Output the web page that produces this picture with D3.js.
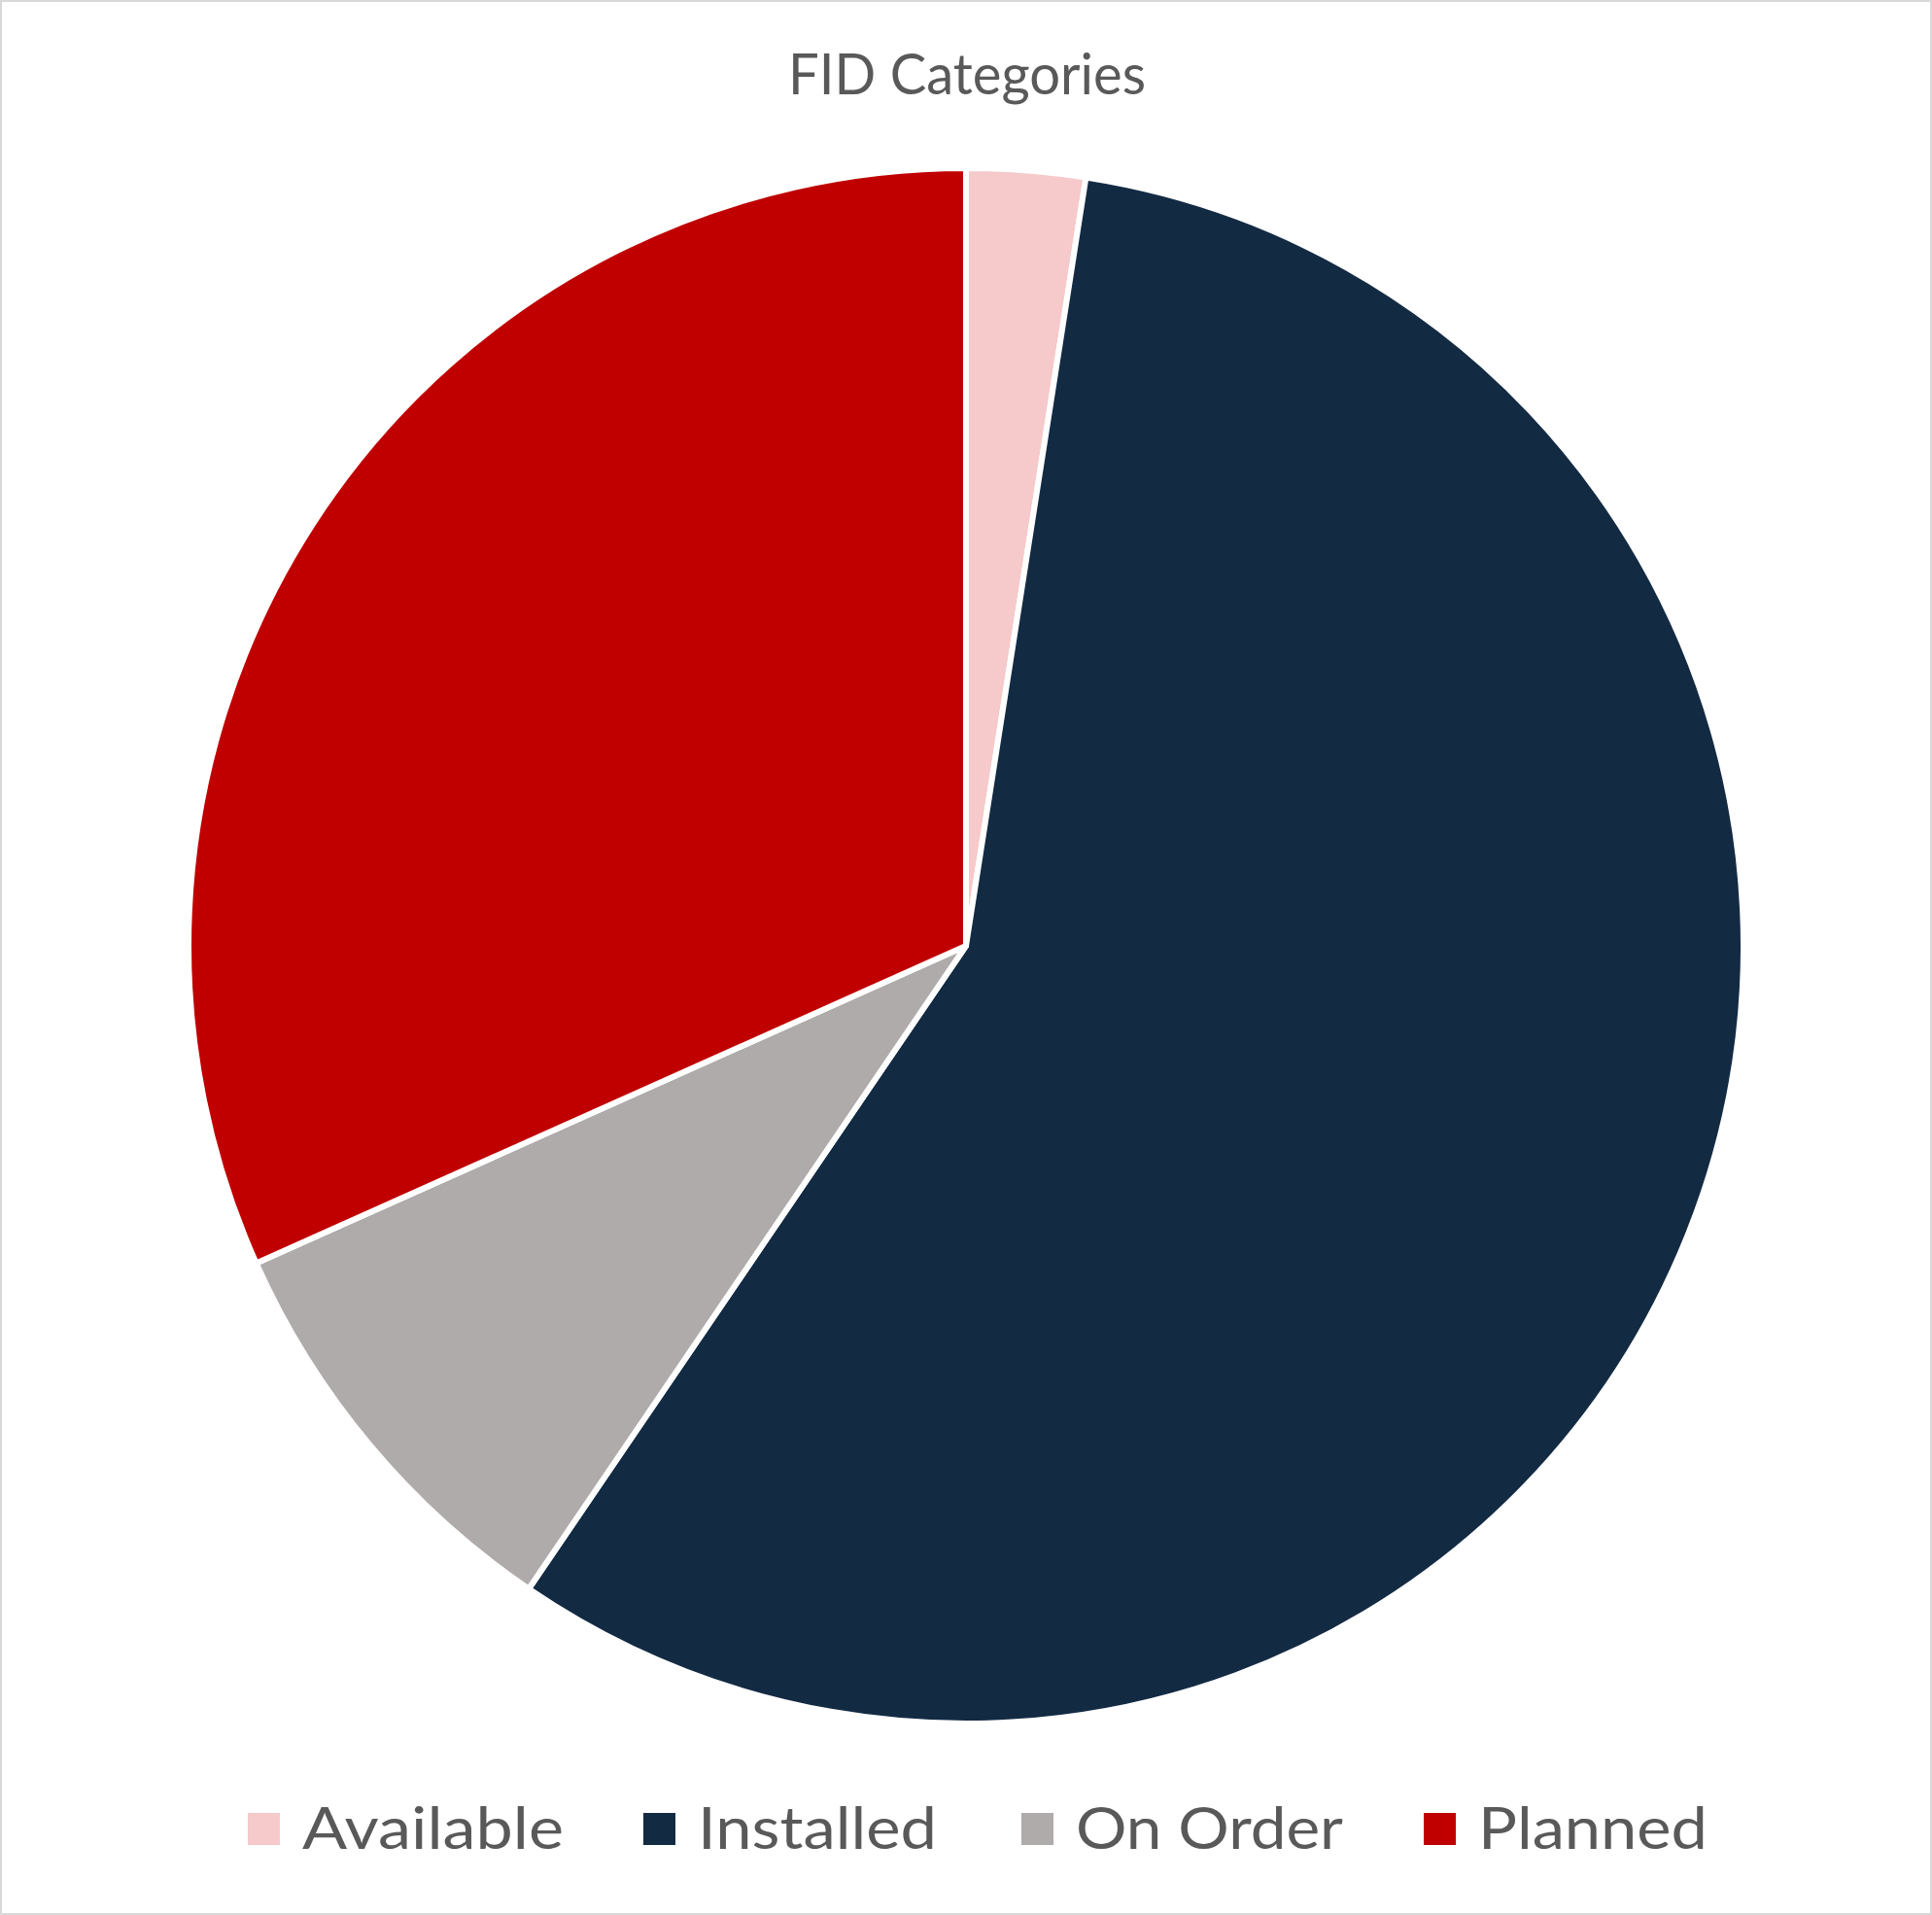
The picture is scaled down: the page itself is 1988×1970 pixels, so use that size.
<!DOCTYPE html>
<html><head><meta charset="utf-8">
<script src="https://cdn.jsdelivr.net/npm/d3@7"></script>
<style>body{margin:0;background:#fff}svg{display:block}</style>
</head><body>
<script>
const categories = ["Available","Installed","On Order","Planned"];
const values = [7,162,25,90];
const colors = ["#F6C9CB","#132A43","#AFABAA","#C00000"];
const title = "FID Categories";

const W = 1988, H = 1970;
const svg = d3.select("body").append("svg").attr("width",W).attr("height",H);
svg.append("rect").attr("x",1).attr("y",1).attr("width",W-2).attr("height",H-2)
  .attr("fill","#fff").attr("stroke","#D9D9D9").attr("stroke-width",2);

const font = "Lato, 'Open Sans', sans-serif";
svg.append("text").attr("x",995).attr("y",97).attr("text-anchor","middle")
  .attr("font-family",font).attr("font-size",58).attr("fill","#595959")
  .attr("textLength",368).attr("lengthAdjust","spacingAndGlyphs").text(title);

const cx = 994, cy = 973, r = 800;
const pie = d3.pie().sort(null).value(d=>d.v);
const arc = d3.arc().innerRadius(0).outerRadius(r);
const data = categories.map((c,i)=>({c, v:values[i], col:colors[i]}));
const g = svg.append("g").attr("transform",`translate(${cx},${cy})`);
g.selectAll("path").data(pie(data)).join("path")
  .attr("d",arc).attr("fill",d=>d.data.col)
  .attr("stroke","#fff").attr("stroke-width",6).attr("stroke-linejoin","round");

// legend
const legendX = [255,662,1051,1465];
const textW = [269,246,275,236];
const lg = svg.append("g");
data.forEach((d,i)=>{
  lg.append("rect").attr("x",legendX[i]).attr("y",1865).attr("width",33).attr("height",33).attr("fill",d.col);
  lg.append("text").attr("x",legendX[i]+56).attr("y",1902)
    .attr("font-family",font).attr("font-size",60).attr("fill","#595959")
    .attr("textLength",textW[i]).attr("lengthAdjust","spacingAndGlyphs")
    .text(d.c);
});
</script>
</body></html>
